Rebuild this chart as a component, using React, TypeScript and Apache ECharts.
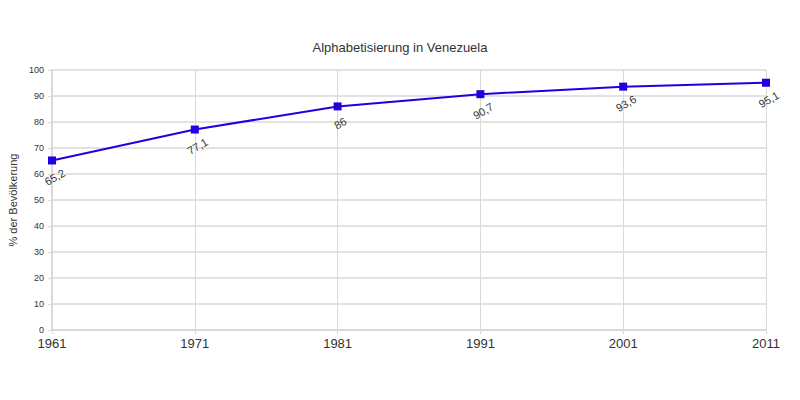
import React, { useEffect, useRef } from "react";
import * as echarts from "echarts";

const years = ["1961", "1971", "1981", "1991", "2001", "2011"];
const literacy = [65.2, 77.1, 86, 90.7, 93.6, 95.1];
const titleText = "Alphabetisierung in Venezuela";
const yAxisName = "% der Bevölkerung";

export default function App() {
  const ref = useRef<HTMLDivElement>(null);
  useEffect(() => {
    if (!ref.current) return;
    const chart = echarts.init(ref.current, undefined, { renderer: "svg" });
    chart.setOption({
      animation: false,
      backgroundColor: "#ffffff",
      title: {
        text: titleText,
        left: "center",
        top: 36,
        textStyle: { fontFamily: "Liberation Sans", fontSize: 13, fontWeight: "normal", color: "#333" },
      },
      grid: { left: 52, right: 34, top: 70, bottom: 70, containLabel: false, outerBoundsMode: "none" },
      xAxis: {
        type: "category",
        data: years,
        boundaryGap: false,
        axisLine: { lineStyle: { color: "#d9d9d9", width: 2 } },
        axisTick: { show: true, length: 4, lineStyle: { color: "#d9d9d9" } },
        axisLabel: { fontFamily: "Liberation Sans", fontSize: 13, color: "#333", margin: 7 },
        splitLine: { show: true, lineStyle: { color: "#d9d9d9", width: 1 } },
      },
      yAxis: {
        type: "value",
        min: 0,
        max: 100,
        interval: 10,
        name: yAxisName,
        nameLocation: "middle",
        nameGap: 33,
        nameTextStyle: { fontFamily: "Liberation Sans", fontSize: 11, color: "#333" },
        axisLine: { show: true, lineStyle: { color: "#d9d9d9", width: 2 } },
        axisTick: { show: true, length: 4, lineStyle: { color: "#d9d9d9" } },
        axisLabel: { fontFamily: "Liberation Sans", fontSize: 9, color: "#333", margin: 8 },
        splitLine: { show: true, lineStyle: { color: "#d9d9d9", width: 1.5 } },
      },
      series: [
        {
          type: "line",
          data: literacy,
          symbol: "rect",
          symbolSize: 8,
          itemStyle: { color: "#2200dd" },
          lineStyle: { color: "#2200dd", width: 2 },
          label: {
            show: true,
            position: "bottom",
            distance: 8,
            rotate: 30,
            fontFamily: "Liberation Sans",
            fontSize: 11,
            color: "#333",
            formatter: (p: any) => String(p.value).replace(".", ","),
          },
        },
      ],
    });
    return () => chart.dispose();
  }, []);
  return <div ref={ref} style={{ position: "absolute", left: 0, top: 0, width: 800, height: 400 }} />;
}
